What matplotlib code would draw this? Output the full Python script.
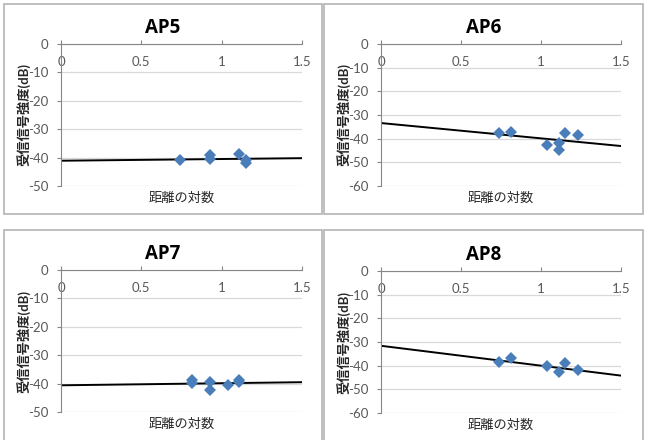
import matplotlib
matplotlib.use("Agg")
import matplotlib.pyplot as plt
import numpy as np
from matplotlib.patches import Rectangle

plt.rcParams['font.family'] = ['Lato', 'Noto Sans CJK JP', 'DejaVu Sans']
plt.rcParams['axes.unicode_minus'] = False

# data
titles = ['AP5', 'AP6', 'AP7', 'AP8']
ap5_x = [0.74, 0.93, 0.93, 1.11, 1.15, 1.15]
ap5_y = [-40.9, -39.2, -40.6, -38.6, -41.0, -42.0]
ap6_x = [0.74, 0.81, 1.04, 1.11, 1.11, 1.15, 1.23]
ap6_y = [-37.5, -37.1, -42.8, -42.0, -44.9, -37.4, -38.5]
ap7_x = [0.815, 0.815, 0.93, 0.93, 1.04, 1.11, 1.11]
ap7_y = [-38.9, -39.8, -39.6, -42.2, -40.4, -38.9, -39.5]
ap8_x = [0.74, 0.81, 1.04, 1.11, 1.15, 1.23]
ap8_y = [-38.3, -36.7, -40.3, -42.7, -38.7, -41.7]
# linear trend lines (intercept, slope)
trends = [(-41.1, 0.6), (-33.4, -6.47), (-40.6, 0.73), (-31.6, -8.4)]
ymins = [-50, -60, -50, -60]
xticks = [0, 0.5, 1, 1.5]
xticklabels = ['0', '0.5', '1', '1.5']
xlabel = '距離の対数'
ylabel = '受信信号強度(dB)'

xs = [ap5_x, ap6_x, ap7_x, ap8_x]
ys = [ap5_y, ap6_y, ap7_y, ap8_y]

W, H = 648, 440
fig = plt.figure(figsize=(W / 100, H / 100), dpi=100)

# pixel layout: (box left, box top, box right, box bottom, plot left, plot right, plot top, plot bottom)
panels = [
    (4, 4, 322, 214, 61, 302, 44, 186),
    (324, 4, 643, 214, 381, 621, 44, 186),
    (4, 230, 322, 445, 61, 302, 270, 412),
    (324, 230, 643, 445, 381, 621, 271, 413),
]

grid_c = '#d9d9d9'
axis_c = '#868686'
tick_c = '#595959'

for i in range(4):
    bl, bt, br, bb, pl, pr, pt, pb = panels[i]
    fig.add_artist(Rectangle((bl / W, 1 - bb / H), (br - bl) / W, (bb - bt) / H,
                             transform=fig.transFigure, fill=False,
                             edgecolor='#b4b4b4', linewidth=1.2))
    ax = fig.add_axes([pl / W, 1 - pb / H, (pr - pl) / W, (pb - pt) / H])
    ax.set_xlim(0, 1.5)
    ax.set_ylim(ymins[i], 0)

    b, m = trends[i]
    tx = np.array([0, 1.5])
    ax.plot(tx, b + m * tx, color='black', lw=1.4, zorder=2)
    ax.plot(xs[i], ys[i], 'D', color='#4a7ebb', markersize=6.5,
            markeredgewidth=0, zorder=3)

    yt = np.arange(ymins[i], 1, 10)
    ax.set_yticks(yt)
    ax.set_yticklabels([str(int(v)) for v in yt])
    ax.yaxis.grid(True, color=grid_c, lw=0.9)
    ax.set_axisbelow(True)

    ax.xaxis.tick_top()
    ax.set_xticks(xticks)
    ax.set_xticklabels(xticklabels)
    ax.tick_params(axis='x', direction='out', length=3, color=axis_c,
                   pad=-20, labelsize=9.5, labelcolor=tick_c)
    ax.tick_params(axis='y', direction='out', length=3, color=axis_c,
                   pad=6, labelsize=9.5, labelcolor=tick_c)

    for s in ['right', 'bottom']:
        ax.spines[s].set_visible(False)
    ax.spines['left'].set_color(axis_c)
    ax.spines['top'].set_color(axis_c)
    ax.spines['left'].set_linewidth(0.8)
    ax.spines['top'].set_linewidth(0.8)

    fig.text((bl + br) / 2 / W, 1 - (pt - 16) / H, titles[i], ha='center', va='center',
             fontsize=13.5, fontweight='bold', family=['Open Sans', 'DejaVu Sans'])
    fig.text((pl + pr) / 2 / W, 1 - (pb + 12) / H, xlabel, ha='center', va='center',
             fontsize=9.5, color='#262626')
    fig.text((bl + 19) / W, 1 - (pt + pb) / 2 / H, ylabel, ha='center', va='center',
             rotation=90, fontsize=9.5, fontweight='bold', color='#262626')

fig.savefig('out.png', dpi=100, facecolor='white')
